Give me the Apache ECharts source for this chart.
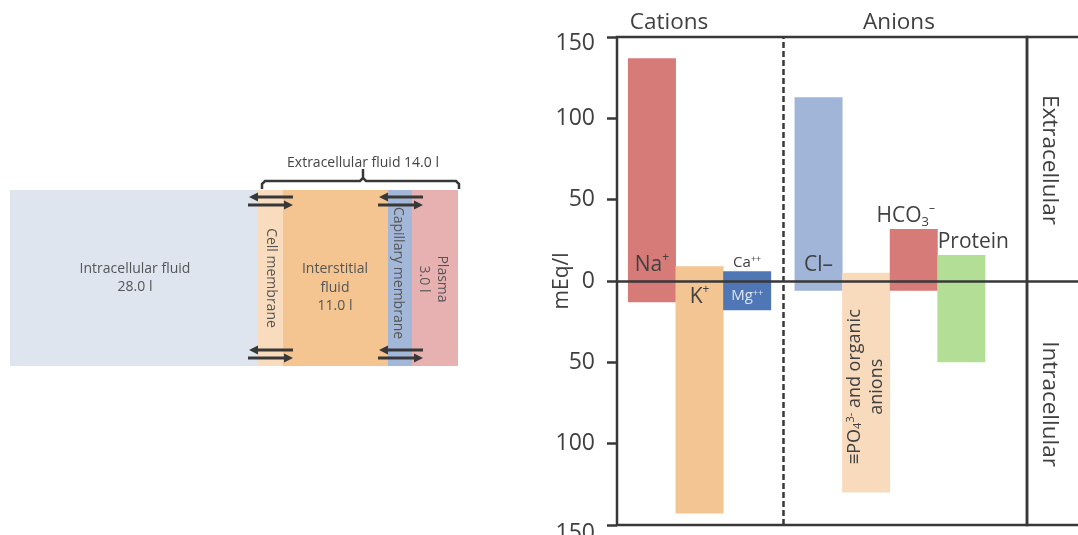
<!DOCTYPE html>
<html><head><meta charset="utf-8">
<script src="https://cdn.jsdelivr.net/npm/echarts@6/dist/echarts.min.js"></script>
<style>html,body{margin:0;padding:0;background:#fff}#c{width:1078px;height:535px}</style>
</head><body><div id="c"></div>
<script>
// ---------------- data ----------------
const ions = ['Na+', 'K+', 'Ca++/Mg++', 'Cl-', 'PO4 3- and organic anions', 'HCO3-', 'Protein'];
const ionGroup = ['Cations', 'Cations', 'Cations', 'Anions', 'Anions', 'Anions', 'Anions'];
const extracellular = [137, 9, 6, 113, 5, 32, 16];      // mEq/l, plotted upward
const intracellular = [-13, -143, -18, -6, -130, -6, -50]; // mEq/l, plotted downward
const groupTitles = ['Cations', 'Anions'];
const sideTitles = ['Extracellular', 'Intracellular'];
const compartments = ['Intracellular fluid', 'Interstitial fluid', 'Plasma'];
const volumes = [28.0, 11.0, 3.0];          // litres
const extracellularVolume = 14.0;           // litres
const membranes = ['Cell membrane', 'Capillary membrane'];

// ---------------- styles ----------------
const F = "'Open Sans', sans-serif";
const INK = '#383838';
const TXT = '#404040';
const ionColors = ['#d77b79', '#f3c592', '#4f77b6', '#a0b5d7', '#f8dbbd', '#d77b79', '#b3de95'];

// category slots: spacers between bars, a wider gap (with a separator) between groups
const slots = [];
let separator = -1;
ions.forEach((n, i) => {
  if (i > 0) {
    const change = ionGroup[i] !== ionGroup[i - 1];
    const gap = change ? 5 : 3;
    if (change) separator = slots.length + 2;
    for (let k = 0; k < gap; k++) slots.push(-1);
  }
  slots.push(i);
});
const slotNames = slots.map((s, k) => s < 0 ? ' ' + k : ions[s]);

const rich = {
  m: {fontSize: 21, color: TXT, fontFamily: F, lineHeight: 26},
  sup: {fontSize: 12, color: TXT, fontFamily: F, lineHeight: 26, verticalAlign: 'top', padding: [0, 0, 10, 0]},
  sub: {fontSize: 13, color: TXT, fontFamily: F, lineHeight: 26, verticalAlign: 'bottom', padding: [6, 0, 0, 0]},
  s: {fontSize: 15, color: TXT, fontFamily: F, lineHeight: 18},
  ssup: {fontSize: 9, color: TXT, fontFamily: F, lineHeight: 18, padding: [0, 0, 6, 0]},
  w: {fontSize: 15, color: '#dce6f6', fontFamily: F, lineHeight: 18},
  wsup: {fontSize: 9, color: '#dce6f6', fontFamily: F, lineHeight: 18, padding: [0, 0, 6, 0]},
  p: {fontSize: 18, color: TXT, fontFamily: F, lineHeight: 22},
  psub: {fontSize: 11, color: TXT, fontFamily: F, lineHeight: 22, padding: [6, 0, 0, 0]},
  psup: {fontSize: 11, color: TXT, fontFamily: F, lineHeight: 22, padding: [0, 0, 8, 0]}
};

function labelFor(i, side) {
  const L = {
    'ext0': {position: 'insideBottom', distance: 3, formatter: '{m|Na}{sup|+}'},
    'int1': {position: 'insideTop', distance: 3, formatter: '{m|K}{sup|+}'},
    'ext2': {position: 'top', distance: 0, formatter: '{s|Ca}{ssup|++}'},
    'int2': {position: 'insideTop', distance: 6, formatter: '{w|Mg}{wsup|++}'},
    'ext3': {position: 'insideBottom', distance: 3, formatter: '{m|Cl\u2013}'},
    'int4': {position: 'inside', rotate: 90, formatter: '{p|\u2261PO}{psub|4}{psup|3-}{p| and organic}\n{p|anions}'},
    'ext5': {position: 'top', distance: 0, offset: [-8, 0], formatter: '{m|HCO}{sub|3}{sup|\u2013}'},
    'ext6': {position: 'top', distance: 0, offset: [12, 0], formatter: '{m|Protein}'}
  }[side + i];
  return L ? Object.assign({show: true, rich: rich, align: 'center'}, L) : {show: false};
}

function seriesData(vals, side) {
  return slots.map(s => s < 0 ? '-' : {
    value: vals[s],
    name: ions[s],
    itemStyle: {color: ionColors[s]},
    label: labelFor(s, side)
  });
}

// ---------- left diagram (schematic) ----------
const D = {x: 10, y: 190, h: 176, w: [248, 25, 105, 24, 46]};
const dColors = ['#dfe5ef', '#f9dcbd', '#f4c591', '#a3b7d8', '#e8b1b1'];
const xs = [D.x]; D.w.forEach(w => xs.push(xs[xs.length - 1] + w));
const diag = [];
D.w.forEach((w, k) => diag.push({type: 'rect', shape: {x: xs[k], y: D.y, width: w, height: D.h}, style: {fill: dColors[k]}, z: 1}));
const tStyle = (txt, extra) => Object.assign({text: txt, fill: '#555', font: "14px 'Open Sans', sans-serif", align: 'center', verticalAlign: 'middle', lineHeight: 18.5}, extra || {});
diag.push({type: 'text', x: 135, y: 278, style: tStyle(compartments[0] + '\n' + volumes[0].toFixed(1) + ' l'), z: 3});
diag.push({type: 'text', x: 335, y: 288, style: tStyle('Interstitial\nfluid\n' + volumes[1].toFixed(1) + ' l'), z: 3});
diag.push({type: 'text', x: 271, y: 278, rotation: -Math.PI / 2, style: tStyle(membranes[0]), z: 3});
diag.push({type: 'text', x: 398, y: 273, rotation: -Math.PI / 2, style: tStyle(membranes[1]), z: 3});
diag.push({type: 'text', x: 433, y: 279, rotation: -Math.PI / 2, style: tStyle(compartments[2] + '\n' + volumes[2].toFixed(1) + ' l'), z: 3});
// brace
diag.push({type: 'polyline', shape: {points: [[262, 189], [262, 184], [265, 181], [360, 181], [363, 178], [363, 169], [363, 178], [366, 181], [456, 181], [459, 184], [459, 189]]}, style: {stroke: INK, lineWidth: 2.5, fill: null}, z: 3});
diag.push({type: 'text', x: 363, y: 163, style: tStyle('Extracellular fluid ' + extracellularVolume.toFixed(1) + ' l', {fill: '#444'}), z: 2});
// exchange arrows
function arrow(x1, x2, y, dir) {
  const tip = dir < 0 ? Math.min(x1, x2) : Math.max(x1, x2);
  const tail = dir < 0 ? Math.max(x1, x2) : Math.min(x1, x2);
  const base = tip - dir * 9;
  diag.push({type: 'line', shape: {x1: tail, y1: y, x2: base, y2: y}, style: {stroke: INK, lineWidth: 3}, z: 4});
  diag.push({type: 'polygon', shape: {points: [[tip, y], [base, y - 4.5], [base, y + 4.5]]}, style: {fill: INK}, z: 4});
}
[[248, 293], [378, 423]].forEach(([a, b]) => {
  arrow(a + 1, b, 197, -1); arrow(a, b, 205, 1);
  arrow(a + 1, b, 350, -1); arrow(a, b, 358, 1);
});
// titles
const titleStyle = {fill: TXT, font: "22.5px 'Open Sans', sans-serif", align: 'center', verticalAlign: 'middle'};
diag.push({type: 'text', x: 669, y: 23, style: Object.assign({text: groupTitles[0]}, titleStyle)});
diag.push({type: 'text', x: 899, y: 23, style: Object.assign({text: groupTitles[1]}, titleStyle)});
diag.push({type: 'text', x: 1049, y: 160, rotation: -Math.PI / 2, style: Object.assign({text: sideTitles[0]}, titleStyle)});
diag.push({type: 'text', x: 1049, y: 404, rotation: -Math.PI / 2, style: Object.assign({text: sideTitles[1]}, titleStyle)});

const lineStyle = {color: INK, width: 2.5};
const gridBase = {top: 37, bottom: 10, outerBoundsMode: 'none', containLabel: false};
const chart = echarts.init(document.getElementById('c'), null, {renderer: 'canvas'});
chart.setOption({
  animation: false,
  backgroundColor: '#fff',
  grid: [
    Object.assign({left: 617, right: 51, show: true, borderColor: INK, borderWidth: 2.5, backgroundColor: 'transparent'}, gridBase),
    Object.assign({left: 646, right: 110.7}, gridBase),
    Object.assign({left: 1027, width: 80, show: true, borderColor: INK, borderWidth: 2.5, backgroundColor: 'transparent'}, gridBase)
  ],
  xAxis: [
    {gridIndex: 0, type: 'value', min: 0, max: 1, z: 10, axisLine: {show: true, onZero: true, lineStyle: lineStyle}, axisTick: {show: false}, axisLabel: {show: false}, splitLine: {show: false}},
    {gridIndex: 1, type: 'category', data: slotNames, axisLine: {show: false}, axisTick: {show: false}, axisLabel: {show: false}, splitLine: {show: false}},
    {gridIndex: 2, type: 'value', min: 0, max: 1, z: 10, axisLine: {show: true, onZero: true, lineStyle: lineStyle}, axisTick: {show: false}, axisLabel: {show: false}, splitLine: {show: false}}
  ],
  yAxis: [
    {gridIndex: 0, type: 'value', min: -150, max: 150, interval: 50, axisLine: {show: false},
      axisTick: {show: true, length: 10, lineStyle: lineStyle},
      axisLabel: {formatter: v => v === 150 ? '{t|150}' : (v === -150 ? '{b|150}' : String(Math.abs(v))), margin: 22, fontSize: 23, color: TXT, fontFamily: F,
        rich: {t: {fontSize: 23, color: TXT, fontFamily: F, padding: [12, 0, 0, 0]}, b: {fontSize: 23, color: TXT, fontFamily: F, padding: [16, 0, 0, 0]}}},
      splitLine: {show: false},
      name: 'mEq/l', nameLocation: 'middle', nameGap: 44, nameMoveOverlap: false, nameTextStyle: {fontSize: 21, color: TXT, fontFamily: F}},
    {gridIndex: 1, type: 'value', min: -150, max: 150, show: false},
    {gridIndex: 2, type: 'value', min: -150, max: 150, show: false}
  ],
  series: [
    {name: 'Extracellular', type: 'bar', xAxisIndex: 1, yAxisIndex: 1, stack: 'ion', barWidth: 48, clip: false, data: seriesData(extracellular, 'ext'),
      markLine: {silent: true, symbol: 'none', label: {show: false}, lineStyle: {color: INK, width: 2.5, type: [6, 3]},
        data: [{xAxis: slotNames[separator]}]}},
    {name: 'Intracellular', type: 'bar', xAxisIndex: 1, yAxisIndex: 1, stack: 'ion', barWidth: 48, clip: false, data: seriesData(intracellular, 'int')}
  ],
  graphic: diag
});
</script></body></html>
